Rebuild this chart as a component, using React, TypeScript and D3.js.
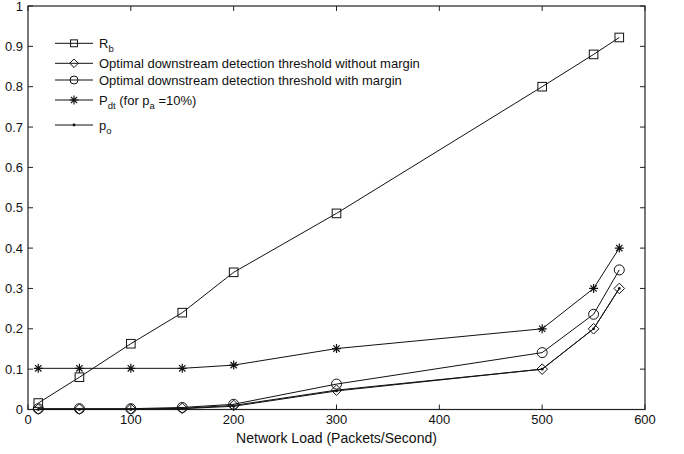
import React from "react";
import * as d3 from "d3";

const loads = [10, 50, 100, 150, 200, 300, 500, 550, 575];
const rb = [0.016, 0.08, 0.163, 0.24, 0.34, 0.486, 0.8, 0.88, 0.922];
const withoutMargin = [0.001, 0.001, 0.001, 0.003, 0.01, 0.048, 0.1, 0.2, 0.3];
const withMargin = [0.002, 0.002, 0.002, 0.005, 0.013, 0.063, 0.141, 0.236, 0.346];
const pdt = [0.102, 0.102, 0.102, 0.102, 0.11, 0.151, 0.2, 0.3, 0.4];
const po = [0.0, 0.0, 0.0, 0.002, 0.008, 0.046, 0.1, 0.2, 0.3];
const xTicks = [0, 100, 200, 300, 400, 500, 600];
const yTicks = [0, 0.1, 0.2, 0.3, 0.4, 0.5, 0.6, 0.7, 0.8, 0.9, 1];

const W = 684, H = 454;
const L = 28, R = 645, T = 6, B = 409.5;
const FONT = "Liberation Sans, Arial, Helvetica, sans-serif";

type Kind = "square" | "diamond" | "circle" | "star" | "dot";

function Marker({ kind, x, y, small }: { kind: Kind; x: number; y: number; small?: boolean }) {
  const k = small ? 0.8 : 1;
  const s = { fill: "none", stroke: "#111", strokeWidth: 1 };
  if (kind === "square") {
    const h = 4.3 * k;
    return <rect x={x - h} y={y - h} width={2 * h} height={2 * h} {...s} />;
  }
  if (kind === "diamond") {
    const h = 5.3 * k;
    return <path d={`M${x},${y - h}L${x + h},${y}L${x},${y + h}L${x - h},${y}Z`} {...s} />;
  }
  if (kind === "circle") return <circle cx={x} cy={y} r={5 * k} {...s} />;
  if (kind === "star") {
    const r = 4.5, d = r * 0.7;
    return (
      <path
        d={`M${x - r},${y}H${x + r}M${x},${y - r}V${y + r}M${x - d},${y - d}L${x + d},${y + d}M${x - d},${y + d}L${x + d},${y - d}`}
        stroke="#111"
        strokeWidth={1.2}
      />
    );
  }
  return <circle cx={x} cy={y} r={1.4} fill="#111" />;
}

export default function App() {
  const x = d3.scaleLinear().domain([0, 600]).range([L, R]);
  const y = d3.scaleLinear().domain([0, 1]).range([B, T]);
  const line = d3
    .line<[number, number]>()
    .x((d) => x(d[0]))
    .y((d) => y(d[1]));

  const series: { vals: number[]; kind: Kind }[] = [
    { vals: rb, kind: "square" },
    { vals: withoutMargin, kind: "diamond" },
    { vals: withMargin, kind: "circle" },
    { vals: pdt, kind: "star" },
    { vals: po, kind: "dot" },
  ];

  const sub = 9.5;
  const legend: { kind: Kind; y: number; label: React.ReactNode }[] = [
    {
      kind: "square",
      y: 43.3,
      label: (
        <>
          R<tspan fontSize={sub} dy={4}>b</tspan>
        </>
      ),
    },
    { kind: "diamond", y: 63.3, label: "Optimal downstream detection threshold without margin" },
    { kind: "circle", y: 80, label: "Optimal downstream detection threshold with margin" },
    {
      kind: "star",
      y: 100,
      label: (
        <>
          P<tspan fontSize={sub} dy={4}>dt</tspan>
          <tspan dy={-4}> (for p</tspan>
          <tspan fontSize={sub} dy={4}>a</tspan>
          <tspan dy={-4}> =10%)</tspan>
        </>
      ),
    },
    {
      kind: "dot",
      y: 125,
      label: (
        <>
          p<tspan fontSize={sub} dy={4}>o</tspan>
        </>
      ),
    },
  ];

  return (
    <svg
      width={W}
      height={H}
      style={{ position: "absolute", left: 0, top: 0, background: "#fff" }}
      fontFamily={FONT}
    >
      <rect x={0} y={0} width={W} height={H} fill="#fff" />
      {xTicks.map((t) => (
        <g key={"x" + t}>
          <line x1={x(t)} x2={x(t)} y1={B} y2={B - 5} stroke="#222" />
          <line x1={x(t)} x2={x(t)} y1={T} y2={T + 5} stroke="#222" />
          <text x={x(t)} y={424} textAnchor="middle" fontSize={13} fill="#111">
            {t}
          </text>
        </g>
      ))}
      {yTicks.map((t) => (
        <g key={"y" + t}>
          <line x1={L} x2={L + 5} y1={y(t)} y2={y(t)} stroke="#222" />
          <line x1={R} x2={R - 5} y1={y(t)} y2={y(t)} stroke="#222" />
          <text x={L - 5} y={y(t) + 4.5} textAnchor="end" fontSize={13} fill="#111">
            {t}
          </text>
        </g>
      ))}
      <rect x={L} y={T} width={R - L} height={B - T} fill="none" stroke="#222" strokeWidth={1.2} />
      {series.map((s, i) => (
        <g key={i}>
          <path
            d={line(loads.map((l, j) => [l, s.vals[j]] as [number, number])) || ""}
            fill="none"
            stroke="#111"
            strokeWidth={1}
          />
          {loads.map((l, j) => (
            <Marker key={j} kind={s.kind} x={x(l)} y={y(s.vals[j])} />
          ))}
        </g>
      ))}
      {legend.map((e, i) => (
        <g key={"l" + i}>
          <line x1={55} x2={93} y1={e.y} y2={e.y} stroke="#111" />
          <Marker kind={e.kind} x={74} y={e.y} small />
          <text x={99} y={e.y + 4.5} fontSize={13} fill="#111">
            {e.label}
          </text>
        </g>
      ))}
      <text x={(L + R) / 2} y={443} textAnchor="middle" fontSize={14} fill="#111">
        Network Load (Packets/Second)
      </text>
    </svg>
  );
}
